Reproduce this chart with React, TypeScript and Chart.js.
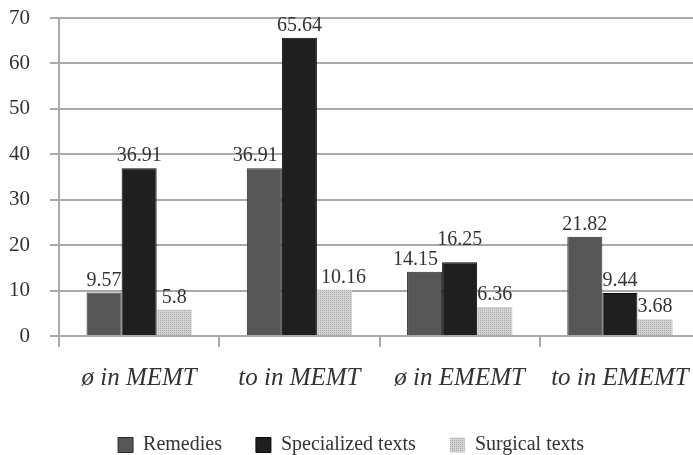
import { useEffect, useRef } from "react";
import { Chart, registerables } from "chart.js";

Chart.register(...registerables);

const categories = ["ø in MEMT", "to in MEMT", "ø in EMEMT", "to in EMEMT"];
const seriesNames = ["Remedies", "Specialized texts", "Surgical texts"];
const remedies = [9.57, 36.91, 14.15, 21.82];
const specialized = [36.91, 65.64, 16.25, 9.44];
const surgical = [5.8, 10.16, 6.36, 3.68];
const yMin = 0;
const yMax = 70;
const yStep = 10;

const SERIF = "'Liberation Serif', 'Times New Roman', serif";

// Value labels above each bar, nudged sideways/upwards so they never sit on
// a neighbouring bar or on another label (as the reference's labels do).
const valueLabels = {
  id: "valueLabels",
  afterDatasetsDraw(chart: any) {
    const ctx = chart.ctx;
    const gap = 7;
    const margin = 4;
    const textH = 14;
    const labelPad = 6;
    ctx.save();
    ctx.font = `20px ${SERIF}`;
    ctx.fillStyle = "#333";
    ctx.textAlign = "center";
    ctx.textBaseline = "alphabetic";
    const n = chart.data.labels.length;
    const dsCount = chart.data.datasets.length;
    for (let j = 0; j < n; j++) {
      const bars: any[] = [];
      for (let i = 0; i < dsCount; i++) {
        const el = chart.getDatasetMeta(i).data[j];
        bars.push({
          left: el.x - el.width / 2,
          right: el.x + el.width / 2,
          top: el.y,
          x: el.x,
        });
      }
      const placed: any[] = [];
      for (let i = 0; i < dsCount; i++) {
        const text = String(chart.data.datasets[i].data[j]);
        const w = ctx.measureText(text).width;
        let x = bars[i].x;
        let base = bars[i].top - gap;
        for (let k = 0; k < dsCount; k++) {
          if (k === i) continue;
          const b = bars[k];
          const l = x - w / 2;
          const r = x + w / 2;
          if (r > b.left && l < b.right && base > b.top) {
            if (b.x > bars[i].x) x = b.left - margin - w / 2;
            else x = b.right + margin + w / 2;
          }
        }
        for (const p of placed) {
          const l = x - w / 2;
          const r = x + w / 2;
          if (
            r + labelPad > p.l &&
            l - labelPad < p.r &&
            base > p.top &&
            base - textH < p.base
          ) {
            base = p.top - 6;
          }
        }
        ctx.fillText(text, x, base);
        placed.push({ l: x - w / 2, r: x + w / 2, top: base - textH, base });
      }
    }
    ctx.restore();
  },
};

export default function App() {
  const ref = useRef<HTMLCanvasElement | null>(null);

  useEffect(() => {
    const canvas = ref.current;
    if (!canvas) return;
    const ctx = canvas.getContext("2d")!;

    const pc = document.createElement("canvas");
    pc.width = 4;
    pc.height = 4;
    const pctx = pc.getContext("2d")!;
    pctx.fillStyle = "#d4d4d4";
    pctx.fillRect(0, 0, 4, 4);
    pctx.fillStyle = "#aaaaaa";
    pctx.fillRect(0, 0, 1, 1);
    pctx.fillRect(2, 2, 1, 1);
    pctx.fillRect(2, 0, 1, 1);
    pctx.fillRect(0, 2, 1, 1);
    const pattern = ctx.createPattern(pc, "repeat")!;

    const chart = new Chart(canvas, {
      type: "bar",
      data: {
        labels: categories,
        datasets: [
          {
            label: seriesNames[0],
            data: remedies,
            backgroundColor: "#565656",
            borderColor: "#2a2a2a",
            borderWidth: 1,
          },
          {
            label: seriesNames[1],
            data: specialized,
            backgroundColor: "#1f1f1f",
            borderColor: "#0a0a0a",
            borderWidth: 1,
          },
          {
            label: seriesNames[2],
            data: surgical,
            backgroundColor: pattern as any,
            borderWidth: 0,
          },
        ],
      },
      options: {
        animation: false,
        responsive: false,
        layout: { padding: { top: 18, right: 3, bottom: 0, left: 0 } },
        plugins: {
          tooltip: { enabled: false },
          legend: {
            position: "bottom",
            labels: {
              boxWidth: 15,
              boxHeight: 15,
              padding: 34,
              color: "#333",
              font: { family: SERIF, size: 20 },
            },
          },
        },
        datasets: {
          bar: { categoryPercentage: 0.656, barPercentage: 1.0 },
        },
        scales: {
          x: {
            grid: {
              offset: true,
              drawOnChartArea: false,
              drawTicks: true,
              tickLength: 11,
              color: "#aaaaaa",
              lineWidth: 2,
            },
            border: { display: true, color: "#aaaaaa", width: 2 },
            ticks: {
              color: "#333",
              padding: 16,
              font: { family: SERIF, size: 25, style: "italic" },
            },
            afterFit: (scale: any) => {
              scale.height = 65;
            },
          },
          y: {
            min: yMin,
            max: yMax,
            ticks: {
              stepSize: yStep,
              color: "#333",
              padding: 20,
              font: { family: SERIF, size: 21 },
            },
            grid: {
              color: "#aaaaaa",
              lineWidth: 2,
              tickLength: 9,
            },
            border: { display: true, color: "#aaaaaa", width: 2 },
            afterFit: (scale: any) => {
              scale.width = 59;
              scale.paddingTop = 0;
            },
          },
        },
      },
      plugins: [valueLabels],
    });
    return () => chart.destroy();
  }, []);

  return (
    <div
      style={{
        position: "fixed",
        left: 0,
        top: 0,
        width: 693,
        height: 455,
        overflow: "hidden",
        background: "#fff",
      }}
    >
      <canvas ref={ref} width={705} height={465} style={{ display: "block" }} />
    </div>
  );
}
